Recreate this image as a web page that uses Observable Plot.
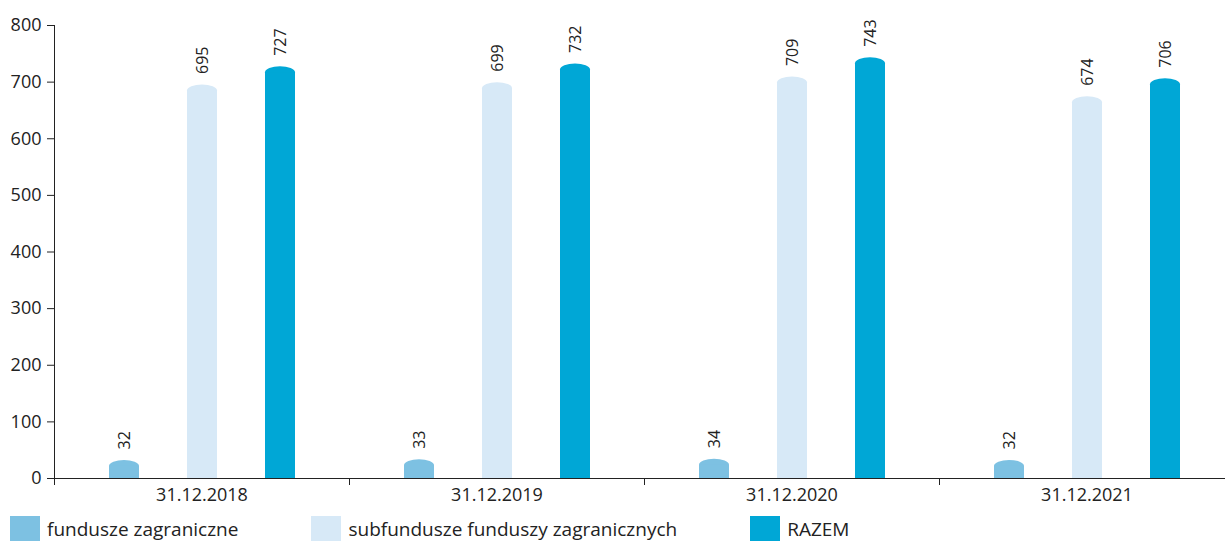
<!DOCTYPE html>
<html>
<head>
<meta charset="utf-8">
<script src="https://cdn.jsdelivr.net/npm/d3@7"></script>
<script src="https://cdn.jsdelivr.net/npm/@observablehq/plot@0.6"></script>
<style>
  html, body { margin: 0; padding: 0; background: #fff; }
  body { width: 1225px; height: 541px; overflow: hidden; font-family: "Open Sans", sans-serif; color: #222; }
  #legend { display: flex; align-items: center; margin-left: 10px; margin-top: 6px; font-size: 19px; }
  .item { display: flex; align-items: center; }
  .sw { width: 30px; height: 26px; margin-right: 7px; }
</style>
</head>
<body>
<div id="chart"></div>
<div id="legend"></div>
<script>
const dates = ["31.12.2018", "31.12.2019", "31.12.2020", "31.12.2021"];
const series = ["fundusze zagraniczne", "subfundusze funduszy zagranicznych", "RAZEM"];
const fundusze = [32, 33, 34, 32];
const subfundusze = [695, 699, 709, 674];
const razem = [727, 732, 743, 706];
const colors = ["#7dc1e2", "#d7e9f7", "#00a7d6"];
const yTicks = [0, 100, 200, 300, 400, 500, 600, 700, 800];

const values = [fundusze, subfundusze, razem];
const data = dates.flatMap((d, i) => series.map((s, j) => ({date: d, series: s, value: values[j][i]})));

const W = 1225, H = 510, mL = 54, mR = -9;
const halfBand = (W - mR - mL) / dates.length / 2;

const chart = Plot.plot({
  width: W, height: H,
  marginLeft: mL, marginRight: mR, marginTop: 25, marginBottom: 32,
  style: {fontFamily: "Open Sans", fontSize: "18px", color: "#222"},
  fx: {domain: dates, padding: 0, label: null, axis: null},
  x: {domain: series, paddingInner: 0.618, paddingOuter: 0.688, axis: null},
  y: {domain: [0, 800], label: null, axis: null},
  color: {domain: series, range: colors},
  marks: [
    Plot.barY(data, {fx: "date", x: "series", y: "value", fill: "series", rx: 15, ry: 6}),
    Plot.barY(data, {fx: "date", x: "series", y: "value", fill: "series", insetTop: 6}),
    Plot.text(data, {fx: "date", x: "series", y: "value", text: d => String(d.value), rotate: -90, textAnchor: "start", dy: -11, fontSize: 16, fill: "#222"}),
    Plot.ruleY([0]),
    Plot.axisY({ticks: yTicks, tickSize: 7, tickPadding: 6, label: null, fontSize: 18}),
    Plot.axisFx({anchor: "bottom", tickSize: 0, tickPadding: 10, label: null, fontSize: 18}),
    Plot.axisFx({anchor: "bottom", tickSize: 7, tickFormat: () => "", dx: -halfBand, label: null}),
    Plot.frame({anchor: "left", facet: "super"})
  ]
});
document.getElementById("chart").appendChild(chart);

const legend = document.getElementById("legend");
series.forEach((s, j) => {
  const item = document.createElement("div");
  item.className = "item";
  item.style.marginRight = "73px";
  const sw = document.createElement("div");
  sw.className = "sw";
  sw.style.background = colors[j];
  const t = document.createElement("span");
  t.textContent = s;
  item.appendChild(sw);
  item.appendChild(t);
  legend.appendChild(item);
});
</script>
</body>
</html>
